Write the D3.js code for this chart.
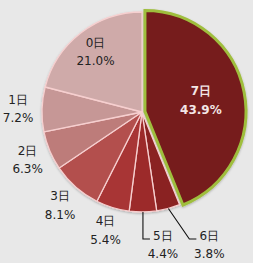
<!DOCTYPE html>
<html>
<head>
<meta charset="utf-8">
<script src="https://cdn.jsdelivr.net/npm/d3@7"></script>
<style>
  html, body { margin: 0; padding: 0; background: #e8e8e8; }
  svg { display: block; }
  .lbl { font-family: "DejaVu Sans", Verdana, sans-serif; font-size: 12px; fill: #222; }
</style>
</head>
<body>
<div id="chart"></div>
<script>
// values, clockwise from 12 o'clock
let days = ['7日', '6日', '5日', '4日', '3日', '2日', '1日', '0日'];
let shares = [43.9, 3.8, 4.4, 5.4, 8.1, 6.3, 7.2, 21.0];
let colours = ['#761b1b', '#8a2323', '#9c2a2a', '#a83434', '#b34f4e', '#bd7b7a', '#c69796', '#cfaaa9'];

let svgWidth = 253;
let svgHeight = 263;

let cx = 142;
let cy = 112;
let radius = 100;

// labels: inside, plain outside, or with a leader line
let insideLabel = { '7日': 0.6, '0日': 0.76 };
let leaderLabel = { '5日': 0, '6日': 21 };   // elbow shift in x
let outsideR = 1.24;
let lineGap = 18.5;

let data = days.map((d, i) => ({ day: d, share: shares[i], colour: colours[i] }));

let svg = d3.select('#chart')
    .append('svg')
    .attr('width', svgWidth)
    .attr('height', svgHeight);

let defs = svg.append('defs');
let shadow = defs.append('filter')
    .attr('id', 'shadow')
    .attr('x', '-10%').attr('y', '-10%')
    .attr('width', '120%').attr('height', '120%');
shadow.append('feDropShadow')
    .attr('dx', 0).attr('dy', 1)
    .attr('stdDeviation', 1.2)
    .attr('flood-color', '#000')
    .attr('flood-opacity', 0.25);

let pie = d3.pie()
    .value(d => d.share)
    .sort(null);

let arcs = pie(data);

let arc = d3.arc()
    .innerRadius(0)
    .outerRadius(radius);

let bigArc = d3.arc()
    .innerRadius(0)
    .outerRadius(radius + 1);

let chartGroup = svg.append('g')
    .attr('transform', `translate(${cx}, ${cy})`);

let slices = chartGroup.append('g').attr('filter', 'url(#shadow)');

// the small slices first, then the pulled-out 7日 on top
slices.selectAll('path.small')
    .data(arcs.filter(a => a.data.day !== '7日'))
    .enter()
    .append('path')
    .attr('d', arc)
    .attr('fill', d => d.data.colour)
    .attr('stroke', '#f6cfcf')
    .attr('stroke-width', 1.3)
    .attr('stroke-linejoin', 'round');

let mainArc = arcs.find(a => a.data.day === '7日');
let midMain = (mainArc.startAngle + mainArc.endAngle) / 2;
let pull = 3;

slices.append('path')
    .datum(mainArc)
    .attr('transform', `translate(${Math.sin(midMain) * pull}, ${-Math.cos(midMain) * pull})`)
    .attr('d', bigArc)
    .attr('fill', d => d.data.colour)
    .attr('stroke', '#9fbe3e')
    .attr('stroke-width', 3)
    .attr('stroke-linejoin', 'miter');

function point(d, r) {
    let a = (d.startAngle + d.endAngle) / 2;
    return [Math.sin(a) * r, -Math.cos(a) * r];
}

function twoLines(g, x, y, d, anchor) {
    let t = g.append('text')
        .classed('lbl', true)
        .attr('text-anchor', anchor);
    t.append('tspan').attr('x', x).attr('y', y - lineGap / 2).attr('dy', '0.35em').text(d.data.day);
    t.append('tspan').attr('x', x).attr('y', y + lineGap / 2).attr('dy', '0.35em').text(d.data.share.toFixed(1) + '%');
    return t;
}

let labels = chartGroup.append('g');

arcs.forEach(d => {
    let day = d.data.day;
    if (insideLabel[day] !== undefined) {
        let [x, y] = point(d, radius * insideLabel[day]);
        let t = twoLines(labels, x, y, d, 'middle');
        if (day === '7日') {
            t.style('fill', '#f3e6e6').style('font-weight', 'bold');
        }
    }
    else if (leaderLabel[day] !== undefined) {
        let [x0, y0] = point(d, radius);
        let yEnd = radius * 1.27;
        let x1 = x0 + leaderLabel[day];
        labels.append('path')
            .attr('d', d3.line()([[x0, y0], [x1, yEnd], [x1 + 7, yEnd]]))
            .attr('fill', 'none')
            .attr('stroke', '#111')
            .attr('stroke-width', 1.1);
        twoLines(labels, x1 + 20, yEnd + 6, d, 'middle');
    }
    else {
        let [x, y] = point(d, radius * outsideR);
        twoLines(labels, x, y, d, 'middle');
    }
});
</script>
</body>
</html>
